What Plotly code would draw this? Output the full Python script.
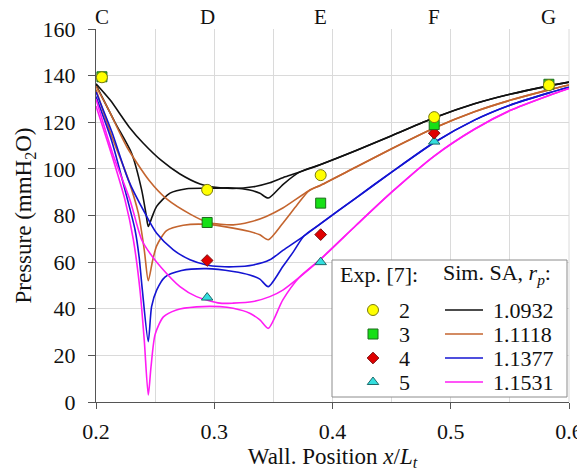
import plotly.graph_objects as go

# ---------------- data ----------------
station_labels = ["C", "D", "E", "F", "G"]
station_x = [0.205, 0.294, 0.390, 0.486, 0.583]

exp2_x = [0.205, 0.294, 0.390, 0.486, 0.583]
exp2_y = [139.3, 91.0, 97.3, 122.2, 135.9]
exp3_x = [0.205, 0.294, 0.390, 0.486, 0.583]
exp3_y = [139.5, 77.0, 85.3, 119.0, 136.3]
exp4_x = [0.294, 0.390, 0.486]
exp4_y = [60.7, 71.8, 115.3]
exp5_x = [0.294, 0.390, 0.486]
exp5_y = [44.8, 60.0, 111.7]

# Simulations (SA model): smooth branch, shock branch, and common tail per r_p
k1_smooth_x = [0.2, 0.212, 0.228, 0.240, 0.2555, 0.271, 0.288, 0.299, 0.316, 0.333, 0.347, 0.360]
k1_smooth_y = [136.5, 129.5, 118.0, 111.0, 103.5, 97.8, 93.5, 92.2, 91.6, 92.3, 94.0, 96.6]
k1_shock_x = [0.2, 0.216, 0.2301, 0.2386, 0.2425, 0.2442, 0.2475, 0.2513, 0.2626, 0.2767, 0.2936, 0.316, 0.330, 0.3386, 0.3457, 0.3583]
k1_shock_y = [136.0, 120.0, 106.7, 91.0, 80.0, 75.3, 79.5, 83.9, 89.6, 91.5, 91.7, 91.8, 90.9, 89.5, 87.5, 93.4]
k1_tail_x = [0.3724, 0.39, 0.42, 0.45, 0.486, 0.52, 0.55, 0.583, 0.6]
k1_tail_y = [98.7, 101.9, 107.9, 114.2, 121.9, 127.9, 132.0, 135.6, 137.2]

k2_smooth_x = [0.2, 0.211, 0.226, 0.245, 0.260, 0.280, 0.295, 0.316, 0.330, 0.344, 0.358]
k2_smooth_y = [135.5, 125.0, 109.5, 95.0, 87.0, 80.5, 77.0, 76.0, 77.2, 79.6, 83.2]
k2_shock_x = [0.2, 0.2133, 0.2273, 0.2358, 0.2408, 0.2442, 0.2478, 0.2513, 0.2597, 0.2738, 0.2936, 0.316, 0.330, 0.3386, 0.3457, 0.358, 0.370]
k2_shock_y = [134.0, 114.0, 95.5, 81.0, 65.3, 52.0, 60.5, 67.0, 73.5, 75.8, 76.2, 74.6, 73.1, 71.7, 69.6, 76.7, 84.5]
k2_tail_x = [0.380, 0.39, 0.42, 0.45, 0.486, 0.52, 0.55, 0.583, 0.6]
k2_tail_y = [90.6, 93.0, 100.8, 108.6, 117.5, 124.5, 129.4, 133.9, 136.0]

k3_smooth_x = [0.2, 0.2133, 0.2273, 0.2414, 0.2513, 0.2654, 0.2795, 0.2936, 0.305, 0.316, 0.333, 0.347, 0.358]
k3_smooth_y = [133.0, 116.0, 95.3, 81.0, 72.4, 65.3, 61.0, 58.8, 58.1, 58.0, 58.8, 61.0, 65.0]
k3_shock_x = [0.2, 0.2133, 0.2245, 0.233, 0.2365, 0.2392, 0.2442, 0.247, 0.2513, 0.2583, 0.2724, 0.2936, 0.316, 0.330, 0.3386, 0.3457, 0.358, 0.3670]
k3_shock_y = [131.0, 112.0, 91.0, 73.9, 62.0, 48.0, 25.9, 40.9, 48.0, 53.6, 56.4, 57.2, 56.0, 54.5, 52.7, 49.5, 58.1, 64.5]
k3_tail_x = [0.376, 0.39, 0.42, 0.45, 0.486, 0.52, 0.55, 0.583, 0.6]
k3_tail_y = [71.3, 76.5, 87.6, 98.6, 111.3, 120.9, 127.3, 132.6, 135.0]

k4_smooth_x = [0.2, 0.2145, 0.2287, 0.2386, 0.2456, 0.2555, 0.271, 0.285, 0.3048, 0.316, 0.333, 0.347, 0.358]
k4_smooth_y = [130.0, 106.0, 86.7, 69.6, 63.8, 57.5, 49.5, 45.2, 42.4, 42.4, 43.1, 45.2, 48.0]
k4_shock_x = [0.2, 0.2145, 0.2245, 0.2316, 0.2372, 0.2408, 0.2442, 0.2465, 0.250, 0.257, 0.268, 0.285, 0.3048, 0.316, 0.330, 0.3386, 0.3457, 0.358]
k4_shock_y = [127.0, 104.0, 86.7, 69.6, 48.0, 26.6, 3.0, 15.0, 29.0, 36.5, 39.5, 40.8, 40.9, 40.2, 38.1, 35.2, 31.6, 43.8]
k4_tail_x = [0.372, 0.39, 0.42, 0.45, 0.486, 0.52, 0.55, 0.583, 0.6]
k4_tail_y = [53.5, 61.3, 75.8, 90.0, 105.5, 117.0, 125.0, 131.5, 134.5]

sim_labels = ["1.0932", "1.1118", "1.1377", "1.1531"]
exp_labels = ["2", "3", "4", "5"]

# ---------------- styles ----------------
sim_colors = ["#111111", "#c4652f", "#1414d2", "#ff1cf4"]
FONT = "Liberation Serif"
TXT = "#111111"
OFF = 8  # page body margin offset
W, H = 585 - OFF, 473 - OFF
ml, mr, mt, mb = 96 - OFF, 16, 29 - OFF, 71
pw, ph = W - ml - mr, H - mt - mb


def F(size=22):
    return dict(family=FONT, size=size, color=TXT)


fig = go.Figure()

sims = [(k1_smooth_x, k1_smooth_y, k1_shock_x, k1_shock_y, k1_tail_x, k1_tail_y),
        (k2_smooth_x, k2_smooth_y, k2_shock_x, k2_shock_y, k2_tail_x, k2_tail_y),
        (k3_smooth_x, k3_smooth_y, k3_shock_x, k3_shock_y, k3_tail_x, k3_tail_y),
        (k4_smooth_x, k4_smooth_y, k4_shock_x, k4_shock_y, k4_tail_x, k4_tail_y)]
for (sx, sy, hx, hy, tx, ty), col, lab in zip(sims, sim_colors, sim_labels):
    for xs, ys in ((sx + tx, sy + ty), (hx + tx, hy + ty)):
        fig.add_trace(go.Scatter(x=xs, y=ys, mode="lines", name=lab, showlegend=False,
                                 line=dict(color=col, width=1.6, shape="spline", smoothing=0.7)))

exp_styles = [
    dict(symbol="circle", size=11, color="#ffff00", line=dict(color="#7a7a10", width=1)),
    dict(symbol="square", size=10, color="#16e016", line=dict(color="#1d6b1d", width=1)),
    dict(symbol="diamond", size=9, color="#e00000", line=dict(color="#7a1010", width=1)),
    dict(symbol="triangle-up", size=10, color="#33dede", line=dict(color="#1f6a6a", width=1)),
]
exps = [(exp2_x, exp2_y), (exp3_x, exp3_y), (exp4_x, exp4_y), (exp5_x, exp5_y)]
for i in [3, 2, 1, 0]:
    fig.add_trace(go.Scatter(x=exps[i][0], y=exps[i][1], mode="markers", name=exp_labels[i],
                             showlegend=False, marker=exp_styles[i], cliponaxis=False))


# ---------------- manual legend (overlay axis in plot fractions) ----------------
def fx(px):  # absolute screen px -> plot fraction
    return (px - OFF - ml) / pw


def fy(py):
    return (H - mb - (py - OFF)) / ph


def note(x, y, text, xanchor="center"):
    fig.add_annotation(x=x, y=y, xref="paper", yref="paper", xanchor=xanchor, yanchor="middle",
                       text=text, showarrow=False, font=F())


bx0, bx1, by0, by1 = fx(332), fx(567), fy(397), fy(260)
fig.add_trace(go.Scatter(x=[bx0, bx1, bx1, bx0, bx0], y=[by0, by0, by1, by1, by0],
                         xaxis="x2", yaxis="y2", mode="lines", fill="toself", fillcolor="white",
                         line=dict(color="#8c8c8c", width=1), showlegend=False, hoverinfo="skip"))

note(fx(379), fy(274), "Exp. [7]:")
note(fx(497), fy(274), "Sim. SA, <i>r<sub>p</sub></i>:")

row_y = [310, 334, 358, 382]
for i in range(4):
    yy = fy(row_y[i])
    fig.add_trace(go.Scatter(x=[fx(445), fx(483)], y=[yy, yy], xaxis="x2", yaxis="y2", mode="lines",
                             line=dict(color=sim_colors[i], width=1.6), showlegend=False, hoverinfo="skip"))
    fig.add_trace(go.Scatter(x=[fx(373)], y=[yy], xaxis="x2", yaxis="y2", mode="markers",
                             marker=exp_styles[i], showlegend=False, hoverinfo="skip"))
    note(fx(404), yy, exp_labels[i])
    note(fx(491), yy, sim_labels[i], xanchor="left")

for lab, sxv in zip(station_labels, station_x):
    fig.add_annotation(x=sxv, y=1, xref="x", yref="paper", xanchor="center", yanchor="middle", yshift=12,
                       text=lab, showarrow=False, font=F(21))

fig.update_layout(
    width=W, height=H,
    margin=dict(l=ml, r=mr, t=mt, b=mb, autoexpand=False),
    paper_bgcolor="white", plot_bgcolor="white",
    showlegend=False,
    xaxis=dict(range=[0.2, 0.6], dtick=0.1, tickformat=".1f", showgrid=True, gridcolor="#dadada",
               gridwidth=1, minor=dict(dtick=0.05, showgrid=True, gridcolor="#dadada", gridwidth=1),
               showline=True, linecolor="#555", linewidth=1.3, ticks="outside", ticklen=6,
               tickcolor="#555", zeroline=False, tickfont=F(), automargin=False, ticklabelstandoff=3,
               title=dict(text="Wall. Position <i>x</i>/<i>L<sub>t</sub></i>", font=F(23), standoff=3)),
    yaxis=dict(range=[0, 160], dtick=20, showgrid=True, gridcolor="#dadada", gridwidth=1,
               showline=True, linecolor="#555", linewidth=1.3, ticks="outside", ticklen=7,
               tickcolor="#555", zeroline=False, tickfont=F(), automargin=False, ticklabelstandoff=8,
               title=dict(text="Pressure (mmH<sub>2</sub>O)", font=F(23), standoff=4)),
    xaxis2=dict(range=[0, 1], overlaying="x", visible=False, fixedrange=True),
    yaxis2=dict(range=[0, 1], overlaying="y", visible=False, fixedrange=True),
)
fig.add_shape(type="line", xref="paper", yref="paper", x0=1, x1=1, y0=0, y1=1,
              line=dict(color="#dadada", width=1), layer="below")

fig.write_html("out.html")
